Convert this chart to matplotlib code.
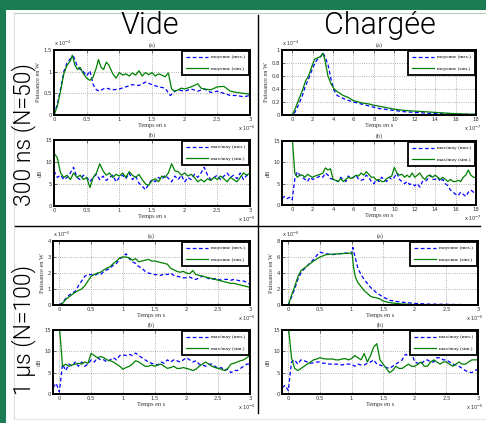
"""Mean power and max/mean ratio, empty vs loaded chamber."""
import matplotlib
matplotlib.use("Agg")
import matplotlib.pyplot as plt
from matplotlib.lines import Line2D
from matplotlib.patches import Rectangle
import numpy as np

# ---- data -------------------------------------------------------------
# 300 ns, empty (time in 1e-6 s, power in 1e-4 W)
vide300_t_mes = [0, 0.05, 0.1, 0.15, 0.2, 0.25, 0.3, 0.35, 0.4, 0.45,
                 0.5, 0.55, 0.6, 0.65, 0.7, 0.75, 0.8, 0.9, 1.0, 1.1,
                 1.2, 1.3, 1.4, 1.5, 1.6, 1.7, 1.78, 1.85, 1.9, 2.0,
                 2.1, 2.2, 2.3, 2.4, 2.5, 2.6, 2.7, 2.8, 2.9, 3.0]
vide300_p_mes = [0.0, 0.25, 0.6, 1.0, 1.2, 1.3, 1.35, 1.15, 1.05, 1.0,
                 0.9, 1.02, 0.7, 0.58, 0.55, 0.6, 0.62, 0.58, 0.6, 0.65,
                 0.7, 0.68, 0.76, 0.7, 0.65, 0.62, 0.45, 0.55, 0.58, 0.55,
                 0.6, 0.55, 0.6, 0.52, 0.55, 0.5, 0.45, 0.45, 0.42, 0.45]
vide300_t_sim = [0, 0.05, 0.1, 0.15, 0.2, 0.25, 0.28, 0.32, 0.36, 0.4,
                 0.45, 0.5, 0.55, 0.6, 0.65, 0.68, 0.72, 0.76, 0.8, 0.84,
                 0.9, 0.95, 1.0, 1.05, 1.1, 1.15, 1.2, 1.25, 1.3, 1.35,
                 1.4, 1.45, 1.5, 1.55, 1.6, 1.65, 1.7, 1.75, 1.8, 1.85,
                 1.9, 1.95, 2.0, 2.1, 2.2, 2.25, 2.3, 2.4, 2.5, 2.6,
                 2.7, 2.8, 2.9, 3.0]
vide300_p_sim = [0.0, 0.2, 0.55, 0.95, 1.15, 1.25, 1.38, 1.15, 1.05, 1.1,
                 0.95, 0.85, 0.8, 0.88, 1.1, 1.28, 1.1, 1.05, 1.22, 1.15,
                 0.95, 0.85, 0.98, 0.92, 0.95, 0.9, 0.97, 0.92, 1.02, 0.9,
                 0.98, 0.93, 0.98, 0.9, 0.95, 0.92, 0.88, 0.97, 0.6, 0.55,
                 0.58, 0.62, 0.6, 0.65, 0.72, 0.62, 0.6, 0.58, 0.65, 0.66,
                 0.55, 0.52, 0.5, 0.48]
vide300_t_db = np.round(np.arange(0, 3.001, 0.05), 2)
vide300_db_mes = [8, 6.5, 7, 6, 6.5, 7.5, 8.8, 6.5, 6, 7,
                  6.5, 5.5, 6.5, 7.2, 6, 6.8, 5.8, 6.5, 7, 5.5,
                  6.5, 7, 6.2, 7.5, 6, 6.8, 5.2, 4.5, 3.7, 5,
                  6, 5.5, 6.5, 6, 7, 6.3, 5.5, 6.8, 6, 7,
                  5.5, 6.5, 6, 7.2, 6.5, 7.5, 8.8, 7, 6, 6.5,
                  7, 6, 6.8, 7.5, 6.5, 7, 6.2, 7.5, 6, 7,
                  6.5]
vide300_db_sim = [12, 11, 7.5, 6.5, 7, 6, 7.5, 6.5, 7, 6,
                  6.5, 4.2, 6.5, 7.5, 9.6, 8, 7, 7.5, 6.5, 7.2,
                  6.8, 7.5, 6.5, 7.8, 7, 6.5, 7.2, 6, 5, 4.7,
                  5.8, 6.2, 5.5, 6.8, 6.5, 7.5, 9.6, 8, 7.8, 7,
                  7.5, 6.8, 7.2, 6.5, 5.5, 6, 5.5, 6.2, 5.8, 6.5,
                  6, 6.8, 6.2, 5.5, 6.5, 6, 5.5, 6.5, 7.5, 7,
                  7.5]

# 300 ns, loaded (time in 1e-7 s, power in 1e-4 W)
charge300_t_mes = [-1, -0.5, 0, 0.3, 0.6, 1.0, 1.3, 1.6, 2.0, 2.3,
                   2.6, 2.8, 3.0, 3.2, 3.5, 3.8, 4.1, 4.4, 4.8, 5.2,
                   5.6, 6.0, 6.5, 7.0, 7.5, 8.0, 8.5, 9.0, 10, 11,
                   12, 13, 14, 15, 16, 17, 18]
charge300_p_mes = [0, 0, 0, 0.05, 0.15, 0.3, 0.45, 0.55, 0.72, 0.82,
                   0.88, 0.9, 0.96, 0.9, 0.78, 0.55, 0.38, 0.3, 0.27, 0.24,
                   0.22, 0.2, 0.18, 0.16, 0.14, 0.12, 0.1, 0.09, 0.07, 0.05,
                   0.04, 0.03, 0.02, 0.02, 0.015, 0.01, 0.01]
charge300_t_sim = [-1, -0.5, 0, 0.3, 0.6, 1.0, 1.3, 1.6, 2.0, 2.2,
                   2.5, 2.8, 3.0, 3.2, 3.5, 3.8, 4.1, 4.5, 5.0, 5.5,
                   6.0, 6.5, 7.0, 7.5, 8.0, 9, 10, 11, 12, 13,
                   14, 16, 18]
charge300_p_sim = [0, 0, 0, 0.1, 0.22, 0.38, 0.52, 0.6, 0.78, 0.86,
                   0.88, 0.9, 0.95, 0.85, 0.6, 0.48, 0.4, 0.35, 0.3, 0.27,
                   0.22, 0.2, 0.18, 0.17, 0.15, 0.12, 0.09, 0.07, 0.06, 0.05,
                   0.04, 0.02, 0.01]
charge300_t_db = np.round(np.arange(-1, 18.001, 0.25), 2)
charge300_db_mes = [1.5, 2, 1.5, 1.8,
                    1.2, 6, 7.8, 7,
                    6.5, 6, 5.5, 6.5,
                    6, 6.2, 6.5, 6.8,
                    6.5, 7.5, 7, 6.2,
                    6, 5.8, 5.5, 6.5,
                    6, 5.5, 6.8, 6.2,
                    6.5, 7, 6, 5.8,
                    6, 7, 6.5, 5.5,
                    5, 6, 5.5, 6.5,
                    6, 5.5, 6.5, 6,
                    6.5, 7.5, 6, 5.5,
                    5, 5.5, 4.8, 5,
                    4.5, 5, 4.2, 5.5,
                    5.5, 6, 7, 6,
                    6, 6.5, 5.5, 6,
                    5, 4.5, 3.5, 3,
                    2.5, 2.2, 3, 2.5,
                    2, 3, 3.5, 3,
                    3.5]
charge300_db_sim = [16, 16, 16, 16,
                    16, 7.5, 6.5, 7,
                    7, 6.5, 7.2, 6.8,
                    6.5, 6.8, 7, 7.2,
                    7.5, 8.7, 8.2, 8.5,
                    6, 5.8, 5.5, 6.2,
                    5.5, 6, 6.5, 6.2,
                    6.5, 7, 6.8, 7.5,
                    7, 7.8, 7.2, 6.5,
                    6.5, 5.8, 6, 5.5,
                    5.5, 6.2, 6.5, 6.8,
                    8.8, 7.5, 7, 7.2,
                    6.5, 7, 6.5, 7.5,
                    6.5, 7, 7.5, 6.5,
                    6, 6.8, 7, 6.5,
                    7, 6.5, 6, 6.5,
                    6, 5.5, 6, 5.5,
                    5.5, 5.8, 5.5, 6.5,
                    7, 8.2, 7, 6.5,
                    6.5]

# 1 us, empty (time in 1e-6 s, power in 1e-5 W)
t_1us = np.round(np.arange(-0.1, 3.001, 0.05), 2)
vide1_p_mes = [0, 0,
               0, 0.15, 0.4, 0.6, 0.75, 0.85, 1.2, 1.5, 1.8, 1.9,
               1.9, 1.85, 1.95, 1.9, 2.1, 2.2, 2.3, 2.5, 2.6, 2.9,
               3.0, 3.2, 2.9, 2.7, 2.6, 2.4, 2.3, 2.1, 2.0, 1.95,
               1.9, 1.9, 1.85, 1.95, 1.9, 2.0, 1.85, 1.8, 1.75, 1.7,
               1.7, 1.75, 1.65, 1.6, 1.7, 1.8, 1.75, 1.65, 1.6, 1.65,
               1.6, 1.55, 1.6, 1.6, 1.55, 1.6, 1.55, 1.5, 1.5, 1.4,
               1.3]
vide1_p_sim = [0, 0,
               0, 0.1, 0.35, 0.5, 0.65, 0.8, 0.9, 1.0, 1.2, 1.5,
               1.8, 1.9, 2.0, 2.05, 2.2, 2.3, 2.4, 2.6, 2.75, 2.95,
               3.0, 3.0, 2.95, 2.8, 2.9, 2.7, 2.75, 2.8, 2.85, 2.75,
               2.75, 2.7, 2.65, 2.6, 2.55, 2.3, 2.2, 2.1, 2.05, 2.1,
               2.0, 1.95, 2.15, 1.9, 1.85, 1.8, 1.75, 1.7, 1.65, 1.6,
               1.55, 1.5, 1.45, 1.4, 1.35, 1.35, 1.3, 1.25, 1.2, 1.15,
               1.1]
vide1_db_mes = [1.5, 2.5,
                0.5, 7, 5.5, 7, 6.5, 7.5, 6.5, 7.5, 6.5, 7,
                8, 7.5, 8.5, 8, 8, 7.5, 8, 8.5, 8, 9,
                9.2, 9, 9.3, 9, 9.6, 9, 8.5, 8, 7.5, 7.2,
                7, 6.8, 7.5, 7.2, 8, 7.5, 8, 7.8, 7.5, 8,
                8.5, 8, 7.5, 7.8, 7, 6.8, 6.5, 7, 7, 6.5,
                6, 6.2, 5.5, 5.8, 5, 5.5, 5.5, 6, 6.5, 7,
                7]
vide1_db_sim = [16, 16,
                16, 6.5, 7, 6.5, 6.8, 7, 7.2, 7, 7.5, 7.2,
                9.5, 9, 8.5, 8.8, 8.5, 8, 7.8, 7.5, 7, 6.5,
                5.8, 6.2, 6.5, 7, 7.8, 7.5, 7, 6.5, 6.5, 6.8,
                6.5, 6.8, 7, 6.5, 6, 6.2, 6.5, 6, 6, 6.2,
                6, 5.8, 5.5, 5.8, 6.5, 7, 7.5, 7, 6.5, 6.2,
                6, 5.8, 5.5, 6, 7, 7.2, 7.5, 7.8, 8, 8.5,
                9]

# 1 us, loaded (time in 1e-6 s, power in 1e-6 W)
charge1_t_mes = [-0.1, 0.0, 0.05, 0.1, 0.15, 0.2, 0.25, 0.3, 0.35, 0.4,
                 0.45, 0.5, 0.6, 0.7, 0.8, 0.9, 1.0, 1.02, 1.05, 1.1,
                 1.15, 1.2, 1.25, 1.3, 1.4, 1.5, 1.6, 1.7, 1.8, 2.0,
                 2.2, 2.5, 2.8, 3.0]
charge1_p_mes = [0, 0, 1.0, 2.0, 3.2, 4.0, 4.5, 4.9, 5.3, 5.7,
                 6.2, 6.6, 6.4, 6.3, 6.4, 6.5, 6.4, 7.2, 6.2, 4.6,
                 3.8, 3.2, 2.7, 2.2, 1.5, 1.0, 0.6, 0.45, 0.35, 0.2,
                 0.12, 0.08, 0.05, 0.03]
charge1_t_sim = [-0.1, 0.0, 0.05, 0.1, 0.15, 0.2, 0.3, 0.4, 0.5, 0.6,
                 0.7, 0.8, 0.9, 1.0, 1.01, 1.03, 1.06, 1.1, 1.15, 1.2,
                 1.3, 1.35, 1.4, 1.45, 1.5, 1.6, 1.7, 1.8, 2.0, 2.5,
                 3.0]
charge1_p_sim = [0, 0, 1.2, 2.3, 3.5, 4.3, 4.9, 5.5, 6.0, 6.3,
                 6.35, 6.4, 6.45, 6.5, 6.5, 4.8, 3.5, 2.8, 2.3, 1.8,
                 1.1, 0.95, 0.9, 0.75, 0.5, 0.3, 0.2, 0.12, 0.06, 0.02,
                 0.01]
charge1_db_mes = [1.5, 2,
                  0.8, 7.5, 8, 7, 8, 7.8, 7.5, 7.2, 7.3, 7.5,
                  7.5, 7.2, 7.2, 7, 7, 7, 7, 6.8, 7, 7,
                  7, 6.5, 7, 6.8, 6.8, 7.2, 7.5, 8, 7, 6.8,
                  6.5, 6.2, 6, 6.5, 7, 7.5, 8, 9.3, 9, 9.5,
                  7.5, 7.2, 7, 7.8, 8, 7.5, 7.5, 8.5, 8.5, 8,
                  8, 7.5, 7, 6.8, 6.5, 6, 5.5, 5.2, 5, 5.5,
                  5.8]
charge1_db_sim = [16, 16,
                  16, 8.5, 6, 5.5, 6, 6.5, 7, 7.5, 8, 8.2,
                  8.5, 8.3, 8.2, 8.2, 8.2, 8, 8, 8.2, 8.3, 8,
                  8.3, 9, 8.5, 8, 9.5, 7.5, 9, 11, 11.8, 8,
                  7, 6, 5, 5.5, 6.5, 6, 6, 6.5, 7, 6.5,
                  6.5, 7, 7.5, 6.5, 6.5, 7.5, 8, 7.5, 7, 7.5,
                  7.5, 7, 6.5, 7, 7.5, 7, 7, 7.5, 8, 8,
                  8]

LBL_P = ["moyenne (mes.)", "moyenne (sim.)"]
LBL_DB = ["max/moy (mes.)", "max/moy (sim.)"]

W, H = 486, 423
GREEN_FRAME = "#1b7b52"
SERIF = "Liberation Serif"


def px_axes(fig, x0, y0, x1, y1):
    """Axes from pixel box (top-left origin)."""
    return fig.add_axes([x0 / W, 1 - y1 / H, (x1 - x0) / W, (y1 - y0) / H])


def panel(ax, t_mes, y_mes, t_sim, y_sim, labels, xlim, xticks, ylim, yticks,
          ylabel, title, xexp, yexp=None):
    ax.plot(t_mes, y_mes, color="#0000ff", ls="--", lw=0.9, dashes=(3, 2),
            label=labels[0])
    ax.plot(t_sim, y_sim, color="#008000", ls="-", lw=0.9, label=labels[1])
    ax.set_xlim(*xlim)
    ax.set_ylim(*ylim)
    ax.set_xticks(xticks)
    ax.set_yticks(yticks)
    ax.set_xticklabels([f"{v:g}" for v in xticks])
    ax.set_yticklabels([f"{v:g}" for v in yticks])
    ax.grid(True, ls=":", color="#999999", lw=0.6)
    ax.tick_params(direction="in", length=1.8, width=0.5, labelsize=3.8,
                   pad=1.5, top=True, right=True, colors="#333333")
    for s in ax.spines.values():
        s.set_linewidth(1.4)
    ax.set_xlabel("Temps en s", family=SERIF, fontsize=4.5, labelpad=1, color="#333333")
    ax.set_ylabel(ylabel, family=SERIF, fontsize=4.5, labelpad=1.5, color="#333333")
    ax.set_title(title, family=SERIF, fontsize=4.5, pad=2.5, color="#333333")
    ax.annotate(xexp, xy=(1, 0), xycoords="axes fraction", xytext=(4, -6),
                textcoords="offset points", ha="right", va="top", fontsize=3.6,
                color="#333333")
    if yexp:
        ax.annotate(yexp, xy=(0, 1), xycoords="axes fraction", xytext=(0, 1.2),
                    textcoords="offset points", ha="left", va="bottom",
                    fontsize=3.6, color="#333333")
    leg = ax.legend(loc="upper right", prop={"family": SERIF, "size": 3.8},
                    handlelength=4.2, handletextpad=0.6, labelspacing=1.25,
                    borderpad=0.75, borderaxespad=0.15, fancybox=False,
                    framealpha=1)
    leg.get_frame().set_edgecolor("black")
    leg.get_frame().set_linewidth(1.3)


fig = plt.figure(figsize=(W / 100, H / 100), dpi=100, facecolor="white")

# frame decoration
fig.add_artist(Rectangle((0, 1 - 10 / H), 1, 10 / H, transform=fig.transFigure,
                         color=GREEN_FRAME, lw=0))
fig.add_artist(Rectangle((0, 0), 6 / W, 1, transform=fig.transFigure,
                         color=GREEN_FRAME, lw=0))
fig.add_artist(Line2D([14 / W, 1], [1 - 13 / H] * 2, color="#b5cfc2", lw=0.8))
fig.add_artist(Line2D([14 / W] * 2, [1 - 13 / H, 1 - 419 / H], color="#dddddd", lw=0.8))
fig.add_artist(Line2D([14 / W, 1], [1 - 419 / H] * 2, color="#e6e6e6", lw=0.8))
fig.add_artist(Line2D([258 / W] * 2, [1 - 15 / H, 1 - 413 / H], color="black", lw=1.0))
fig.add_artist(Line2D([15 / W, 480 / W], [1 - 226 / H] * 2, color="black", lw=1.0))

head = dict(family=["Roboto", "Lato"], fontweight=300, color="black")
fig.text(150 / W, 1 - 26 / H, "Vide", ha="center", va="center", fontsize=22, **head)
fig.text(380 / W, 1 - 26 / H, "Chargée", ha="center", va="center", fontsize=22, **head)
fig.text(24 / W, 1 - 135 / H, "300 ns (N=50)", rotation=90, ha="center",
         va="center", fontsize=16.5, **head)
fig.text(24 / W, 1 - 330 / H, "1 µs (N=100)", rotation=90, ha="center",
         va="center", fontsize=16.5, **head)

x3 = [0, 0.5, 1, 1.5, 2, 2.5, 3]
x18 = list(range(0, 19, 2))
db_ticks = [0, 5, 10, 15]

ax = px_axes(fig, 54, 50, 250, 115)
panel(ax, vide300_t_mes, vide300_p_mes, vide300_t_sim, vide300_p_sim, LBL_P,
      (0, 3), x3, (0, 1.5), [0, 0.5, 1, 1.5], "Puissance en W", "(a)",
      r"x 10$^{-6}$", r"x 10$^{-4}$")
ax = px_axes(fig, 54, 140, 250, 206)
panel(ax, vide300_t_db, vide300_db_mes, vide300_t_db, vide300_db_sim, LBL_DB,
      (0, 3), x3, (0, 15), db_ticks, "dB", "(b)", r"x 10$^{-6}$")

ax = px_axes(fig, 282, 50, 476, 115)
panel(ax, charge300_t_mes, charge300_p_mes, charge300_t_sim, charge300_p_sim,
      LBL_P, (-1, 18), x18, (0, 1), [0, 0.2, 0.4, 0.6, 0.8, 1],
      "Puissance en W", "(a)", r"x 10$^{-7}$", r"x 10$^{-4}$")
ax = px_axes(fig, 282, 141, 476, 205)
panel(ax, charge300_t_db, charge300_db_mes, charge300_t_db, charge300_db_sim,
      LBL_DB, (-1, 18), x18, (0, 15), db_ticks, "dB", "(b)", r"x 10$^{-7}$")

ax = px_axes(fig, 53, 241, 250, 305)
panel(ax, t_1us, vide1_p_mes, t_1us, vide1_p_sim, LBL_P, (-0.1, 3), x3,
      (0, 4), [0, 1, 2, 3, 4], "Puissance en W", "(a)", r"x 10$^{-6}$",
      r"x 10$^{-5}$")
ax = px_axes(fig, 53, 330, 250, 394)
panel(ax, t_1us, vide1_db_mes, t_1us, vide1_db_sim, LBL_DB, (-0.1, 3), x3,
      (0, 15), db_ticks, "dB", "(b)", r"x 10$^{-6}$")

ax = px_axes(fig, 282, 241, 478, 305)
panel(ax, charge1_t_mes, charge1_p_mes, charge1_t_sim, charge1_p_sim, LBL_P,
      (-0.1, 3), x3, (0, 8), [0, 2, 4, 6, 8], "Puissance en W", "(a)",
      r"x 10$^{-6}$", r"x 10$^{-6}$")
ax = px_axes(fig, 282, 330, 478, 394)
panel(ax, t_1us, charge1_db_mes, t_1us, charge1_db_sim, LBL_DB, (-0.1, 3), x3,
      (0, 15), db_ticks, "dB", "(b)", r"x 10$^{-6}$")

fig.savefig("out.png", dpi=100, facecolor=fig.get_facecolor())
